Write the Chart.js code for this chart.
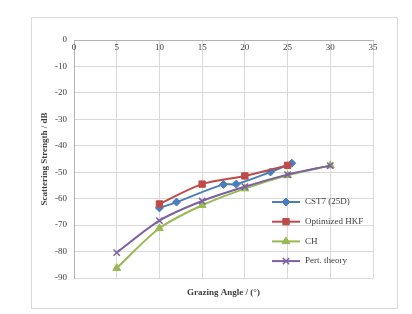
<!DOCTYPE html>
<html>
<head>
<meta charset="utf-8">
<script src="https://cdn.jsdelivr.net/npm/chart.js@4/dist/chart.umd.min.js"></script>
<style>
  html, body { margin: 0; padding: 0; background: #fff; }
  #wrap { width: 412px; height: 314px; }
</style>
</head>
<body>
<div id="wrap"><canvas id="chart" width="412" height="314"></canvas></div>
<script>
// values
const seriesNames = ["CST7 (25D)", "Optimized HKF", "CH", "Pert. theory"];
const cstX = [10, 12, 17.5, 19, 23, 25.5];
const cstY = [-63.5, -61.3, -54.6, -54.5, -49.9, -46.6];
const hkfX = [10, 15, 20, 25];
const hkfY = [-62, -54.5, -51.4, -47.4];
const chX = [5, 10, 15, 20, 25, 30];
const chY = [-86.3, -71.2, -62.5, -56.2, -51.2, -47.5];
const pertX = [5, 10, 15, 20, 25, 30];
const pertY = [-80.4, -68.3, -60.9, -55.5, -50.9, -47.5];
const xTicks = [0, 5, 10, 15, 20, 25, 30, 35];

const font = "'Liberation Serif', 'Times New Roman', serif";
const textColor = "#404040";

function pts(xs, ys) {
    return xs.map((x, i) => ({ x: x, y: ys[i] }));
}

function makeSet(name, xs, ys, color, style, radius, order) {
    return {
        label: name,
        data: pts(xs, ys),
        borderColor: color,
        backgroundColor: color,
        borderWidth: 2,
        pointStyle: style,
        pointRadius: radius,
        pointBorderWidth: style === 'crossRot' ? 1.5 : 1,
        pointBackgroundColor: color,
        pointBorderColor: color,
        tension: 0.3,
        order: order
    };
}

const datasets = [
    makeSet(seriesNames[0], cstX, cstY, '#4a7ebb', 'rectRot', 4, 4),
    makeSet(seriesNames[1], hkfX, hkfY, '#be4b48', 'rect', 4.5, 3),
    makeSet(seriesNames[2], chX, chY, '#98b954', 'triangle', 4.5, 2),
    makeSet(seriesNames[3], pertX, pertY, '#7d60a0', 'crossRot', 4.5, 1)
];

// frame, axis titles, x tick labels and legend
const decor = {
    id: 'decor',
    beforeDraw(chart) {
        const ctx = chart.ctx;
        ctx.save();
        ctx.strokeStyle = '#d9d9d9';
        ctx.lineWidth = 1;
        ctx.strokeRect(31.5, 17.5, 366, 291);
        ctx.restore();
    },
    afterDraw(chart) {
        const ctx = chart.ctx;
        const xs = chart.scales.x;
        const area = chart.chartArea;
        ctx.save();
        ctx.fillStyle = textColor;
        ctx.font = "9px " + font;
        ctx.textAlign = 'center';
        ctx.textBaseline = 'middle';
        xTicks.forEach(v => ctx.fillText(String(v), xs.getPixelForValue(v), area.top + 8));

        ctx.font = "bold 9px " + font;
        ctx.fillText("Grazing Angle / (\u00B0)", (area.left + area.right) / 2, 293);

        ctx.save();
        ctx.translate(45, (area.top + area.bottom) / 2);
        ctx.rotate(-Math.PI / 2);
        ctx.fillText("Scattering Strength / dB", 0, 0);
        ctx.restore();

        // legend
        const lx0 = 272, lx1 = 300, ly0 = 202, step = 19.7;
        ctx.font = "9px " + font;
        ctx.textAlign = 'left';
        datasets.forEach((ds, i) => {
            const y = ly0 + i * step;
            ctx.strokeStyle = ds.borderColor;
            ctx.fillStyle = ds.borderColor;
            ctx.lineWidth = 2;
            ctx.beginPath();
            ctx.moveTo(lx0, y);
            ctx.lineTo(lx1, y);
            ctx.stroke();
            ctx.lineWidth = ds.pointBorderWidth;
            Chart.helpers.drawPoint(ctx, {
                pointStyle: ds.pointStyle,
                radius: ds.pointRadius,
                borderWidth: ds.pointBorderWidth,
                rotation: 0
            }, (lx0 + lx1) / 2, y);
            ctx.fillStyle = textColor;
            ctx.fillText(ds.label, 305, y);
        });
        ctx.restore();
    }
};

new Chart(document.getElementById('chart').getContext('2d'), {
    type: 'line',
    data: { datasets: datasets },
    options: {
        responsive: false,
        animation: false,
        layout: { padding: { left: 0, top: 40, right: 39, bottom: 36 } },
        plugins: {
            legend: { display: false },
            tooltip: { enabled: false }
        },
        scales: {
            x: {
                type: 'linear',
                position: 'top',
                min: 0,
                max: 35,
                ticks: { display: false, stepSize: 5 },
                grid: { color: '#d9d9d9', drawTicks: false },
                border: { color: '#b3b3b3' },
                afterFit: (s) => { s.height = 0; }
            },
            y: {
                min: -90,
                max: 0,
                ticks: {
                    stepSize: 10,
                    padding: 7,
                    color: textColor,
                    font: { family: font, size: 9 }
                },
                grid: { color: '#d9d9d9', drawTicks: false },
                border: { color: '#b3b3b3' },
                afterFit: (s) => { s.width = 74; }
            }
        }
    },
    plugins: [decor]
});
</script>
</body>
</html>
